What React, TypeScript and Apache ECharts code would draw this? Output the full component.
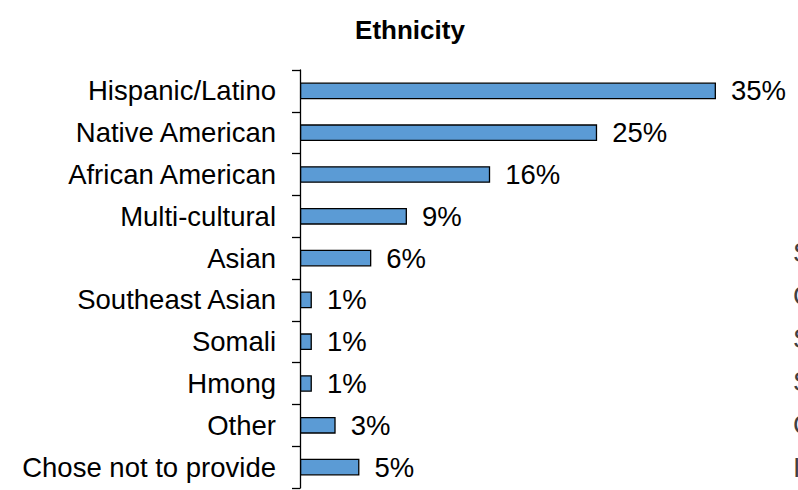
import React, { useEffect, useRef } from "react";
import * as echarts from "echarts";

const categories = [
  "Hispanic/Latino",
  "Native American",
  "African American",
  "Multi-cultural",
  "Asian",
  "Southeast Asian",
  "Somali",
  "Hmong",
  "Other",
  "Chose not to provide",
];
const values = [35, 25, 16, 9, 6, 1, 1, 1, 3, 5];
const edgeLetters = ["S", "C", "S", "S", "C", "I"];

export default function App() {
  const ref = useRef<HTMLDivElement>(null);
  useEffect(() => {
    const chart = echarts.init(ref.current!, null, { renderer: "svg" });
    const font = "Liberation Sans, Arial, sans-serif";
    chart.setOption({
      animation: false,
      title: {
        text: "Ethnicity",
        left: 405,
        top: 12,
        textAlign: "center",
        textStyle: { fontFamily: font, fontSize: 26, fontWeight: "bold", color: "#000" },
      },
      grid: { left: 300, top: 70, width: 475.4, height: 418, containLabel: false },
      xAxis: { type: "value", min: 0, max: 40, show: false },
      yAxis: {
        type: "category",
        data: categories,
        inverse: true,
        boundaryGap: true,
        axisLine: { show: true, lineStyle: { color: "#000", width: 1.3 } },
        axisTick: { show: true, length: 8, inside: false, lineStyle: { color: "#000", width: 1.3 } },
        axisLabel: { fontFamily: font, fontSize: 27.5, color: "#000", margin: 24 },
        splitLine: { show: false },
      },
      series: [
        {
          type: "bar",
          data: values,
          barCategoryGap: "60%",
          itemStyle: { color: "#5B9BD5", borderColor: "#000", borderWidth: 1.3 },
          label: {
            show: true,
            position: "right",
            distance: 15,
            formatter: "{c}%",
            fontFamily: font,
            fontSize: 27.5,
            color: "#000",
          },
        },
      ],
      graphic: edgeLetters.map((t, i) => ({
        type: "text",
        left: 793,
        top: 239 + i * 43,
        style: { text: t, fontFamily: font, fontSize: 27, fill: "#404040" },
      })),
    });
    return () => chart.dispose();
  }, []);
  return (
    <div style={{ position: "absolute", left: 0, top: 0, width: 798, height: 490, overflow: "hidden" }}>
      <div ref={ref} style={{ width: 798, height: 490 }} />
    </div>
  );
}
